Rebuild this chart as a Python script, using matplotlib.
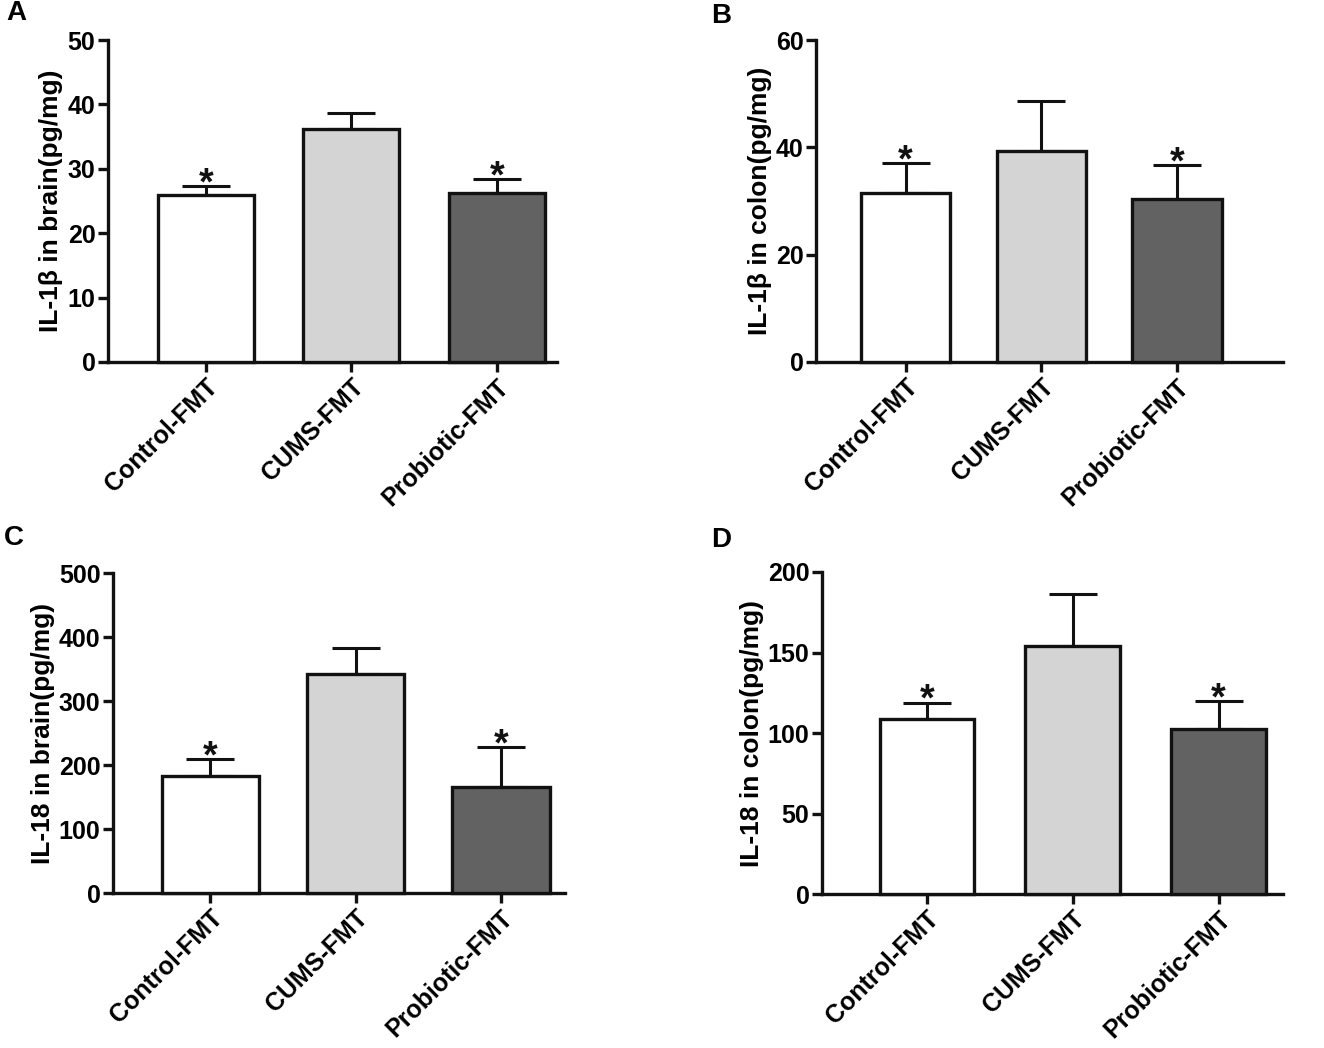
import matplotlib
matplotlib.use('Agg')
import matplotlib.pyplot as plt

plt.rcParams['font.family'] = ['Liberation Sans', 'DejaVu Sans']
plt.rcParams['font.weight'] = 'bold'

groups = ['Control-FMT', 'CUMS-FMT', 'Probiotic-FMT']
colors = ['#ffffff', '#d4d4d4', '#626262']

# panel A: IL-1beta brain
a_mean = [26.0, 36.2, 26.3]
a_top = [27.3, 38.6, 28.4]
# panel B: IL-1beta colon
b_mean = [31.4, 39.4, 30.3]
b_top = [37.0, 48.7, 36.7]
# panel C: IL-18 brain
c_mean = [182.8, 342.0, 165.6]
c_top = [208.9, 383.0, 227.6]
# panel D: IL-18 colon
d_mean = [108.6, 153.9, 102.2]
d_top = [118.9, 186.6, 119.8]

stars = [True, False, True]

W, H = 1324, 1048

panels = [
    ('A', a_mean, a_top, 'IL-1β in brain(pg/mg)', 50, 10, [0.0816, 0.6546, 0.339, 0.3072], (-0.67, 2.41), 0.66, (6, 20)),
    ('B', b_mean, b_top, 'IL-1β in colon(pg/mg)', 60, 20, [0.6163, 0.6546, 0.3527, 0.3072], (-0.66, 2.78), 0.66, (711, 23)),
    ('C', c_mean, c_top, 'IL-18 in brain(pg/mg)', 500, 100, [0.0853, 0.1479, 0.3414, 0.3053], (-0.67, 2.44), 0.67, (4, 545)),
    ('D', d_mean, d_top, 'IL-18 in colon(pg/mg)', 200, 50, [0.6208, 0.1469, 0.348, 0.3073], (-0.72, 2.44), 0.65, (711, 547)),
]

fig = plt.figure(figsize=(13.24, 10.48), dpi=100)

for letter, mean, top, ylabel, ymax, step, rect, xlim, width, lpos in panels:
    ax = fig.add_axes(rect)
    x = list(range(len(groups)))
    ax.bar(x, mean, width=width, color=colors, edgecolor='#111111', linewidth=2.4,
           zorder=3, clip_on=False)
    upper = [t - m for t, m in zip(top, mean)]
    ax.errorbar(x, mean, yerr=[[0] * 3, upper], fmt='none', ecolor='#111111',
                elinewidth=2.2, capsize=17, capthick=2.2, zorder=2)
    for xi, t, s in zip(x, top, stars):
        if s:
            ax.annotate('*', (xi, t), xytext=(0, -6), textcoords='offset points',
                        ha='center', va='baseline', fontsize=27,
                        fontweight='bold', color='#111111')
    ax.set_xlim(*xlim)
    ax.set_ylim(0, ymax)
    ax.set_yticks(range(0, ymax + 1, step))
    ax.set_xticks(x)
    ax.set_xticklabels(groups, rotation=45, ha='right', rotation_mode='anchor',
                       fontsize=18, fontweight='bold')
    ax.set_ylabel(ylabel, fontsize=19, fontweight='bold', labelpad=3)
    for lab in ax.get_yticklabels():
        lab.set_fontsize(18)
        lab.set_fontweight('bold')
    for side in ['top', 'right']:
        ax.spines[side].set_visible(False)
    for side in ['left', 'bottom']:
        ax.spines[side].set_linewidth(2.4)
        ax.spines[side].set_color('#111111')
    ax.tick_params(axis='both', width=2.4, length=7, color='#111111', pad=2)
    fig.text(lpos[0] / W, 1 - lpos[1] / H, letter, fontsize=20, fontweight='bold',
             va='baseline', ha='left')

fig.savefig('out.png', dpi=100, facecolor='white')
